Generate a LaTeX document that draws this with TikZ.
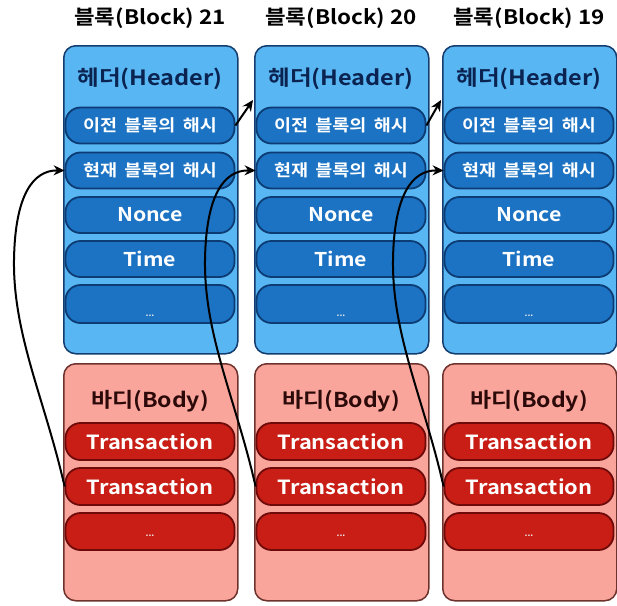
\documentclass[tikz,border=0pt]{standalone}
\usepackage{fontspec}
\setmainfont{Noto Sans CJK KR}[BoldFont={Noto Sans CJK KR Bold}]
\newfontfamily\wf{Noto Sans CJK KR Bold}[FakeStretch=1.12]
\usetikzlibrary{arrows.meta}
\definecolor{hdrfill}{RGB}{88,182,242}
\definecolor{hdrline}{RGB}{20,60,110}
\definecolor{pillfill}{RGB}{28,115,195}
\definecolor{pillline}{RGB}{12,60,115}
\definecolor{bodyfill}{RGB}{250,165,155}
\definecolor{bodyline}{RGB}{110,50,45}
\definecolor{txfill}{RGB}{200,30,22}
\definecolor{txline}{RGB}{110,10,10}
\definecolor{hdrtext}{RGB}{10,35,80}
\definecolor{bodytext}{RGB}{45,10,10}
\begin{document}
\begin{tikzpicture}[x=1pt,y=-1pt,
  hbox/.style={draw=hdrline, line width=1.5pt, fill=hdrfill, rounded corners=12pt,
    minimum width=174pt, minimum height=308pt, anchor=north west, inner sep=0pt},
  bbox/.style={draw=bodyline, line width=1.5pt, fill=bodyfill, rounded corners=12pt,
    minimum width=174pt, minimum height=237pt, anchor=north west, inner sep=0pt},
  hpill/.style={draw=pillline, line width=1.8pt, fill=pillfill, rounded corners=15pt,
    minimum width=169pt, minimum height=36pt, inner sep=0pt, text=white,
    font=\wf\fontsize{16.5}{16.5}\selectfont},
  tpill/.style={draw=txline, line width=1.8pt, fill=txfill, rounded corners=15pt,
    minimum width=169pt, minimum height=37pt, inner sep=0pt, text=white,
    font=\wf\fontsize{19.5}{19.5}\selectfont},
  ttl/.style={font=\wf\fontsize{20}{20}\selectfont, text=black},
  hlab/.style={font=\wf\fontsize{21}{21}\selectfont, text=hdrtext},
  blab/.style={font=\wf\fontsize{20.5}{20.5}\selectfont, text=bodytext},
  dots/.style={font=\bfseries\fontsize{9}{9}\selectfont, text=white!85!gray},
  conn/.style={-{Stealth[length=11pt,width=10pt]}, line width=2pt, black}
]
\useasboundingbox (0,0) rectangle (617,605);
\foreach \L/\n in {63/21,254/20,442/19}{
  \node[ttl] (title\n) at ({\L+87},18) {블록(Block) \n};
  \node[hbox] (hb\n) at (\L,45) {};
  \node[hlab] (hl\n) at ({\L+87},79) {헤더(Header)};
  \node[hpill] (h\n-1) at ({\L+87},125.5) {이전\hspace{0.45em}블록의\hspace{0.45em}해시};
  \node[hpill] (h\n-2) at ({\L+87},170.5) {현재\hspace{0.45em}블록의\hspace{0.45em}해시};
  \node[hpill, font=\wf\fontsize{19}{19}\selectfont] (h\n-3) at ({\L+87},215) {Nonce};
  \node[hpill, font=\wf\fontsize{19}{19}\selectfont] (h\n-4) at ({\L+87},259) {Time};
  \node[hpill, minimum height=38pt] (h\n-5) at ({\L+87},304) {};
  \node[dots] (hd\n) at ({\L+87},316) {...};
  \node[bbox] (bb\n) at (\L,363) {};
  \node[blab] (bl\n) at ({\L+87},401) {바디(Body)};
  \node[tpill] (t\n-1) at ({\L+87},441.5) {Transaction};
  \node[tpill] (t\n-2) at ({\L+87},486.5) {Transaction};
  \node[tpill] (t\n-3) at ({\L+87},531.5) {};
  \node[dots] (td\n) at ({\L+87},536) {...};
  \draw[conn] (t\n-2.west) .. controls ({\L-18},400) and ({\L-50},335) .. ({\L-49},260)
     .. controls ({\L-48},195) and ({\L-30},170) .. (h\n-2.west);
}
\coordinate (in20) at (253,100);
\coordinate (in19) at (441,100);
\draw[conn] (h21-1.east) -- (in20);
\draw[conn] (h20-1.east) -- (in19);
\end{tikzpicture}
\end{document}
